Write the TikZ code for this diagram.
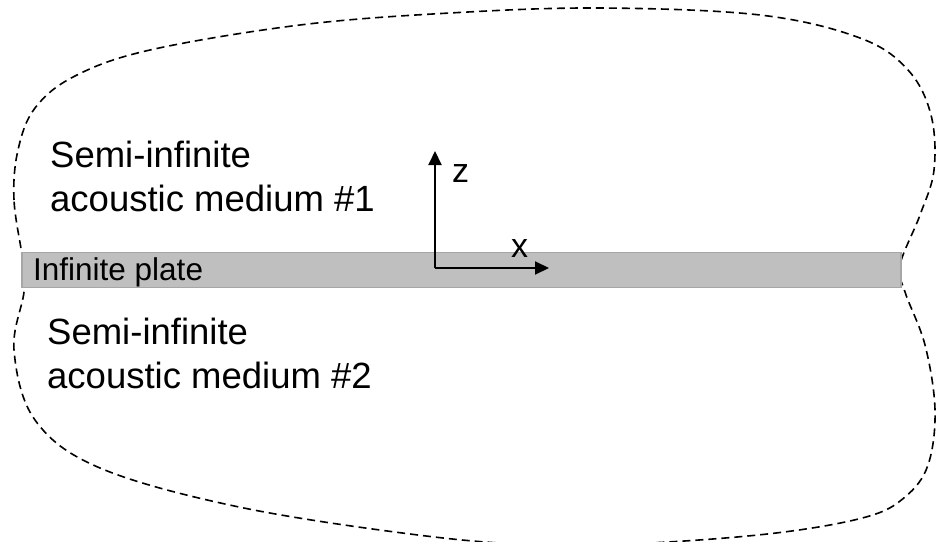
\documentclass[tikz,border=0pt]{standalone}
\usepackage{fontspec}
\setmainfont{Liberation Sans}
\usetikzlibrary{arrows.meta}
\definecolor{platefill}{HTML}{BFBFBF}
\definecolor{plateedge}{HTML}{A6A6A6}
\begin{document}
\begin{tikzpicture}[x=1pt,y=-1pt,
  bigtext/.style={anchor=base west,inner sep=0pt,font=\fontsize{36.5}{44}\selectfont},
  axislabel/.style={anchor=base west,inner sep=0pt,font=\fontsize{34}{40}\selectfont},
  platebox/.style={draw=plateedge,fill=platefill,line width=1.2pt,minimum width=879pt,minimum height=35pt,inner sep=0pt},
  boundary/.style={draw=black,line width=1.6pt,dash pattern=on 8pt off 5pt},
  axis/.style={line width=2pt,-{Triangle[length=14pt,width=13pt]}}]
\useasboundingbox (0,0) rectangle (936,541);
% dashed boundary of the media
\draw[boundary] plot[smooth cycle,tension=0.6] coordinates {
  (23,262) (14,200) (18,150) (35,108) (75,76) (150,50) (300,25) (450,13)
  (600,8) (760,15) (860,38) (908,70) (931,115) (934,170) (920,215) (900,265)
  (905,292) (925,345) (935,410) (928,465) (905,497) (866,517) (776,533)
  (650,543) (540,545) (418,535) (239,507) (100,468) (35,420) (14,350) (24,292)};
% plate
\node[platebox] (plate) at (461.5,270) {};
\node[anchor=base west,inner sep=0pt,font=\fontsize{31.5}{36}\selectfont] (platelabel) at (33,280) {Infinite plate};
% axes
\coordinate (o) at (435,268);
\coordinate (zt) at (435,151);
\coordinate (xt) at (549,268);
\draw[axis] (o) -- (zt);
\draw[axis] (o) -- (xt);
\node[axislabel] (zlab) at (452,182) {z};
\node[axislabel] (xlab) at (511,257) {x};
% media labels
\node[bigtext] (m1a) at (50,167) {Semi-infinite};
\node[bigtext] (m1b) at (50,211) {acoustic medium \#1};
\node[bigtext] (m2a) at (47,344) {Semi-infinite};
\node[bigtext] (m2b) at (47,388) {acoustic medium \#2};
\end{tikzpicture}
\end{document}
